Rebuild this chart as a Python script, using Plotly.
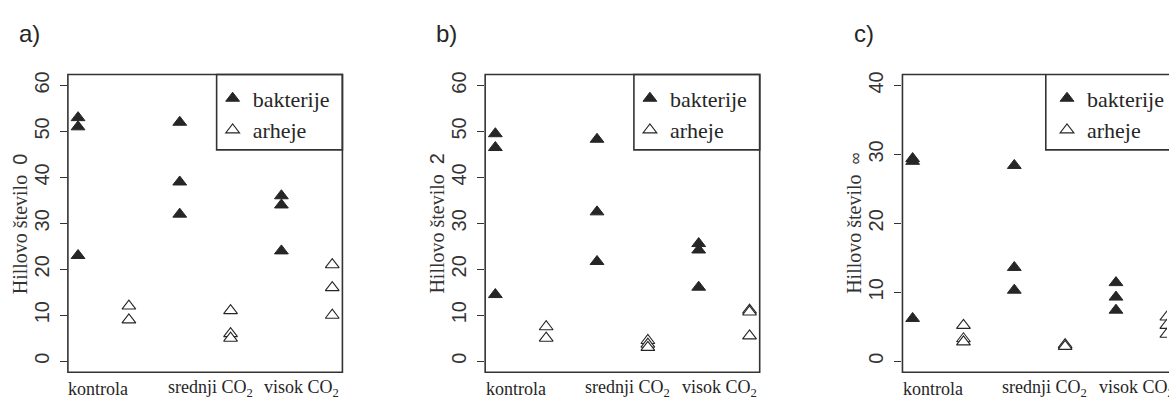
import plotly.graph_objects as go

# Treatment groups along the x axis (each group: bakterije, then arheje)
groups = ["kontrola", "srednji CO<sub>2</sub>", "visok CO<sub>2</sub>"]

# Hill numbers of order q, one panel per q
panel_tags = ["a)", "b)", "c)"]
q_labels = ["0", "2", "∞"]
y_max = [60, 60, 40]
y_ticks = [[0, 10, 20, 30, 40, 50, 60],
           [0, 10, 20, 30, 40, 50, 60],
           [0, 10, 20, 30, 40]]

# Replicate values per group: [kontrola, srednji CO2, visok CO2]
bakterije_q0 = [[53, 51, 23], [52, 39, 32], [36, 34, 24]]
arheje_q0 = [[12, 9], [11, 6, 5], [21, 16, 10]]

bakterije_q2 = [[49.5, 46.5, 14.5], [48.3, 32.5, 21.7], [25.6, 24.2, 16.1]]
arheje_q2 = [[7.5, 5.0], [4.5, 3.7, 3.0], [11.1, 10.7, 5.5]]

bakterije_qinf = [[29.4, 29.0, 6.2], [28.4, 13.6, 10.3], [11.4, 9.3, 7.4]]
arheje_qinf = [[5.2, 3.25, 2.8], [2.4, 2.15], [6.4, 5.2, 3.9]]

bakterije = [bakterije_q0, bakterije_q2, bakterije_qinf]
arheje = [arheje_q0, arheje_q2, arheje_qinf]

W, H = 1169, 400
INK = "#262626"
SERIF = "serif"
SANS = "Liberation Sans"

# Pixel geometry of the three plot frames
frame_left = [68, 486, 904]
frame_w = 275
frame_top, frame_bot = 72, 372
legend_left = [217, 635, 1053]

fig = go.Figure()


def flatten(vals, offset):
    xs, ys = [], []
    for gi, reps in enumerate(vals):
        for v in reps:
            xs.append(2 * gi + offset)
            ys.append(v)
    return xs, ys


px_per_unit = frame_w / 5.4
for i in range(3):
    ax = "" if i == 0 else str(i + 1)
    leg = "legend" if i == 0 else f"legend{i + 1}"
    x0p = frame_left[i] / W
    x1p = min(frame_left[i] + frame_w, W) / W
    dom_px = min(frame_left[i] + frame_w, W) - frame_left[i]
    x_hi = 0.8 + dom_px / px_per_unit
    pad = y_max[i] * 0.04

    xb, yb = flatten(bakterije[i], 1)
    xa, ya = flatten(arheje[i], 2)
    fig.add_trace(go.Scatter(
        x=xb, y=yb, mode="markers", name="bakterije",
        marker=dict(symbol="triangle-up", size=12, color=INK,
                    line=dict(color=INK, width=1)),
        xaxis="x" + ax, yaxis="y" + ax, legend=leg))
    fig.add_trace(go.Scatter(
        x=xa, y=ya, mode="markers", name="arheje",
        marker=dict(symbol="triangle-up", size=12, color="white",
                    line=dict(color=INK, width=1.1)),
        xaxis="x" + ax, yaxis="y" + ax, legend=leg))

    fig.update_layout({
        "xaxis" + ax: dict(domain=[x0p, x1p], range=[0.8, x_hi],
                           showticklabels=False, showgrid=False,
                           zeroline=False, ticks="", anchor="y" + ax),
        "yaxis" + ax: dict(domain=[(H - frame_bot) / H, (H - frame_top) / H],
                           range=[-pad, y_max[i] + pad], tickvals=y_ticks[i],
                           ticks="outside", ticklen=7, tickwidth=1,
                           tickcolor="#333", tickangle=-90,
                           tickfont=dict(family=SANS, size=20, color="#333"),
                           ticklabelstandoff=3,
                           showgrid=False, zeroline=False, showline=False,
                           anchor="x" + ax),
        leg: dict(x=(legend_left[i] - 4) / W, xanchor="left",
                  y=(H - frame_top - 3) / H, yanchor="top",
                  bgcolor="rgba(0,0,0,0)", borderwidth=0,
                  font=dict(family=SERIF, size=22, color=INK),
                  itemwidth=30, tracegroupgap=0),
    })

    xd, yd = "x" + ax + " domain", "y" + ax + " domain"
    lx = (legend_left[i] - frame_left[i]) / frame_w
    ly = (frame_bot - 148) / (frame_bot - frame_top)
    if i < 2:
        fig.add_shape(type="rect", xref=xd, yref=yd, x0=0, x1=1, y0=0, y1=1,
                      line=dict(color="#333", width=1.6))
        fig.add_shape(type="rect", xref=xd, yref=yd, x0=lx, x1=1, y0=ly, y1=1,
                      line=dict(color="#333", width=1.6))
    else:
        fig.add_shape(type="path", xref=xd, yref=yd,
                      path="M 1.2,0 L 0,0 L 0,1 L 1.2,1",
                      line=dict(color="#333", width=1.6))
        fig.add_shape(type="path", xref=xd, yref=yd,
                      path=f"M 1.2,{ly} L {lx},{ly} L {lx},1",
                      line=dict(color="#333", width=1.6))

    # category labels under the frame
    for gi, g in enumerate(groups):
        xpos = 2 * gi + 1.5 + (-0.1, 0.1, -0.1)[gi]
        fig.add_annotation(x=xpos, xref="x" + ax, y=(H - 388.5) / H, yref="paper",
                           text=g, showarrow=False, xanchor="center",
                           yanchor="middle",
                           font=dict(family=SERIF, size=18, color=INK))

    # y-axis title
    qsize = 20 if i < 2 else 17
    fig.add_annotation(
        x=(frame_left[i] - 48) / W, xref="paper", y=(H - 222) / H, yref="paper",
        text=("Hillovo število  <span style='font-family:Liberation Sans;"
              f"font-size:{qsize}px'>{q_labels[i]}</span>"),
        textangle=-90, showarrow=False, xanchor="center", yanchor="middle",
        font=dict(family=SERIF, size=20, color="#333"))

    # panel tag
    fig.add_annotation(x=(frame_left[i] - 51) / W, xref="paper",
                       y=(H - 31) / H, yref="paper", text=panel_tags[i],
                       showarrow=False, xanchor="left", yanchor="middle",
                       font=dict(family=SANS, size=24, color=INK))

fig.update_layout(width=W, height=H, margin=dict(l=0, r=0, t=0, b=0),
                  paper_bgcolor="white", plot_bgcolor="white",
                  showlegend=True)

fig.write_html("out.html")
